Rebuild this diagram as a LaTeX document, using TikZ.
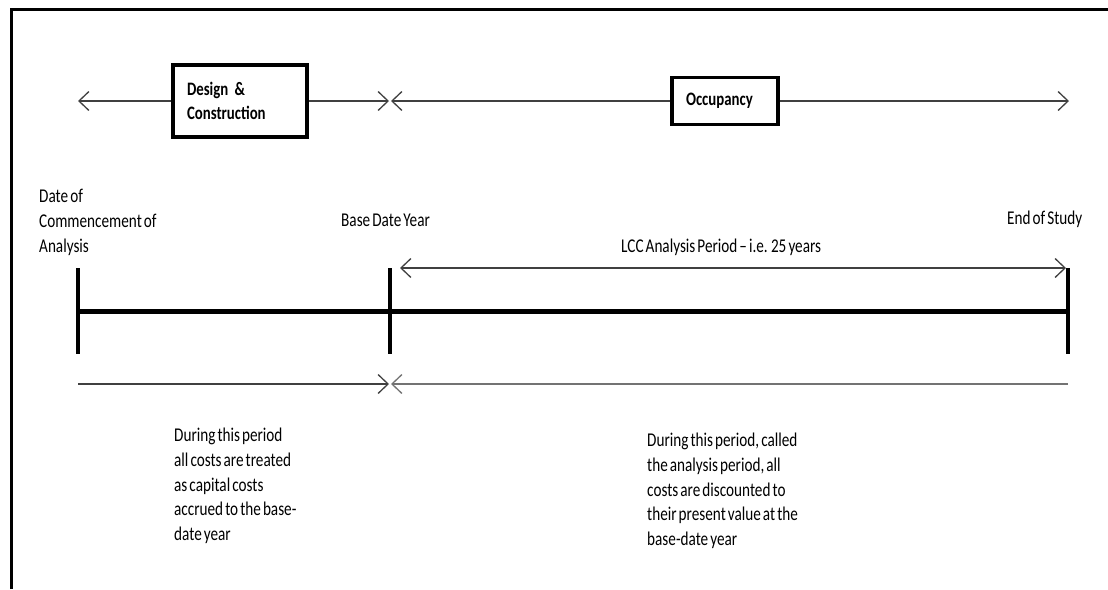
\documentclass[tikz,border=0pt]{standalone}
\usepackage{fontspec}
\setmainfont{Carlito}[FakeStretch=0.78,WordSpace=0.6]
\usetikzlibrary{arrows.meta,positioning}

\begin{document}
\begin{tikzpicture}[x=1pt,y=-1pt,
    >={Straight Barb[length=10pt,width=19pt]},
    phase/.style={draw,line width=3.5pt,inner xsep=14pt,inner ysep=0pt,align=left,
      font=\bfseries\fontsize{19}{24}\selectfont},
    lbl/.style={inner sep=0pt,align=left,anchor=north west,text=black,
      font=\fontsize{19.5}{24.75}\selectfont},
    flow/.style={line width=1.3pt,black!75},
    tick/.style={line width=3.5pt}]
  \useasboundingbox (0,0) rectangle (1108,589);
  \draw[line width=3pt] (11,589) -- (11,9) -- (1108,9);

  % phases
  \node[phase,minimum height=72pt,text width=106pt] (design) at (240,101) {Design \&\\Construction};
  \node[phase,minimum height=47pt,text width=78pt] (occup) at (725,101) {Occupancy};
  \coordinate (dcL) at (78,101);
  \coordinate (dcR) at (389,101);
  \coordinate (ocL) at (391,101);
  \coordinate (ocR) at (1069,101);
  \draw[flow,->] (design.west) -- (dcL);
  \draw[flow,->] (design.east) -- (dcR);
  \draw[flow,->] (occup.west) -- (ocL);
  \draw[flow,->] (occup.east) -- (ocR);

  % time line
  \coordinate (t0) at (78,311);
  \coordinate (tb) at (390,311);
  \coordinate (te) at (1068,311);
  \draw[line width=5pt] (t0) -- (te);
  \foreach \p in {t0,tb,te}
    \draw[tick] ([yshift=43pt]\p) -- ([yshift=-43pt]\p);

  \node[lbl] (start) at (39,189) {Date of\\Commencement of\\Analysis};
  \node[lbl] (base) at (341,214) {Base Date Year};
  \node[lbl] (stop) at (1007,211) {End of Study};
  \node[lbl] (lcc) at (621,239) {LCC Analysis Period -- i.e. 25 years};
  \coordinate (lccL) at (400,268);
  \coordinate (lccR) at (1066,268);
  \draw[flow,<->] (lccL) -- (lccR);

  % cost treatment
  \coordinate (capL) at (78,384);
  \coordinate (capR) at (389,384);
  \coordinate (discL) at (391,384);
  \coordinate (discR) at (1068,384);
  \draw[flow,->] (capL) -- (capR);
  \draw[flow,->,black!55] (discR) -- (discL);
  \node[lbl] (captxt) at (174,428) {During this period\\all costs are treated\\as capital costs\\accrued to the base-\\date year};
  \node[lbl] (disctxt) at (647,433) {During this period, called\\the analysis period, all\\costs are discounted to\\their present value at the\\base-date year};
\end{tikzpicture}
\end{document}
